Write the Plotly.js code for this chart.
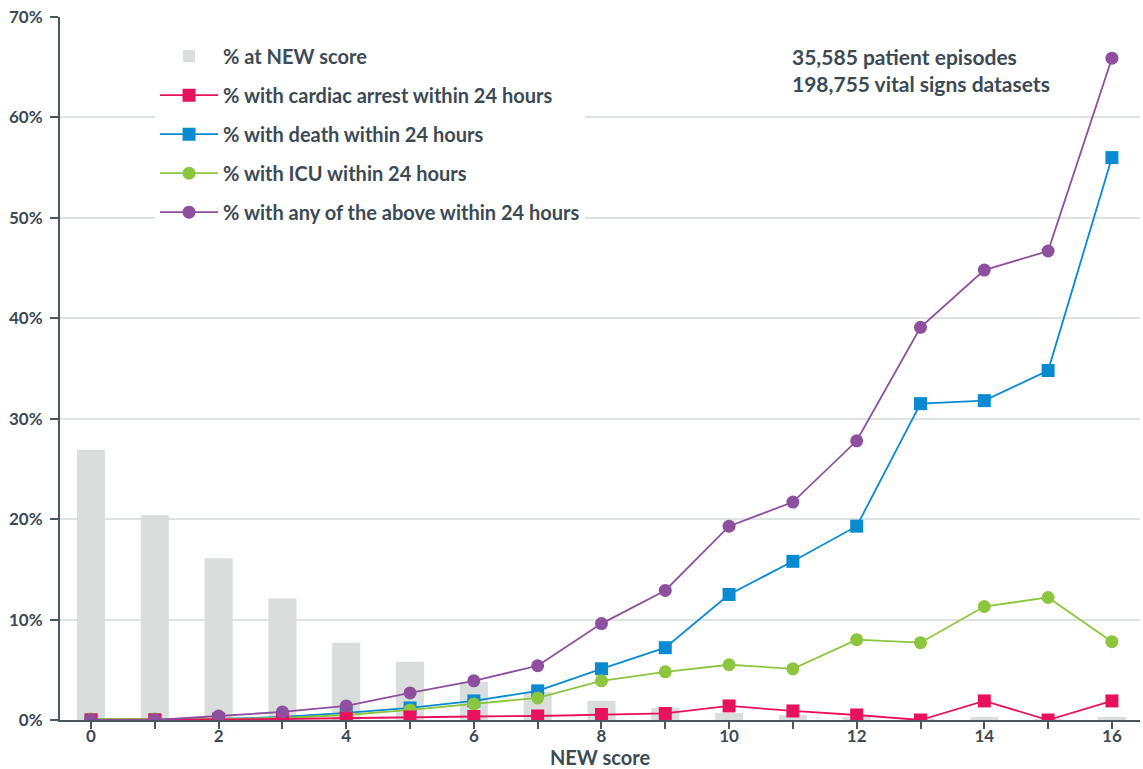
<!DOCTYPE html>
<html><head><meta charset="utf-8">
<script src="https://cdn.plot.ly/plotly-3.0.1.min.js"></script>
<style>body{margin:0;background:#fff}#chart{width:1143px;height:769px}</style>
</head><body><div id="chart"></div>
<script>
const newScore = [0,1,2,3,4,5,6,7,8,9,10,11,12,13,14,15,16];
const pctAtScore = [26.9,20.4,16.1,12.1,7.7,5.8,3.8,2.8,1.9,1.2,0.7,0.5,0.3,0.15,0.3,0.1,0.3];
const cardiacArrest = [0,0,0.05,0.1,0.2,0.3,0.35,0.4,0.55,0.65,1.4,0.9,0.5,0,1.9,0,1.9];
const death = [0,0,0.1,0.3,0.7,1.2,1.9,2.9,5.1,7.2,12.5,15.8,19.3,31.5,31.8,34.8,56.0];
const icu = [0.1,0.1,0.1,0.2,0.5,1.0,1.6,2.2,3.9,4.8,5.5,5.1,8.0,7.7,11.3,12.2,7.8];
const anyOutcome = [0,0,0.4,0.8,1.4,2.7,3.9,5.4,9.6,12.9,19.3,21.7,27.8,39.1,44.8,46.7,65.9];
const seriesNames = ['% at NEW score','% with cardiac arrest within 24 hours','% with death within 24 hours','% with ICU within 24 hours','% with any of the above within 24 hours'];
const noteLines = ['35,585 patient episodes','198,755 vital signs datasets'];

const txt = '#3c4a55';
const F = 'Lato, "Open Sans", sans-serif';

const traces = [
  {type:'bar', x:newScore, y:pctAtScore, name:seriesNames[0], width:0.44,
   marker:{color:'#d9dedd'}, legendrank:1, legendgroup:'a', hoverinfo:'x+y'},
  {type:'scatter', mode:'lines+markers', x:newScore, y:death, name:seriesNames[2],
   line:{color:'#0a8ad0', width:1.8}, marker:{symbol:'square', size:13, color:'#0a8ad0'}, legendrank:3, legendgroup:'c'},
  {type:'scatter', mode:'lines+markers', x:newScore, y:icu, name:seriesNames[3],
   line:{color:'#8cc63f', width:1.8}, marker:{symbol:'circle', size:13, color:'#8cc63f'}, legendrank:4, legendgroup:'d'},
  {type:'scatter', mode:'lines+markers', x:newScore, y:cardiacArrest, name:seriesNames[1],
   line:{color:'#e8125c', width:1.8}, marker:{symbol:'square', size:13, color:'#e8125c'}, legendrank:2, legendgroup:'b'},
  {type:'scatter', mode:'lines+markers', x:newScore, y:anyOutcome, name:seriesNames[4],
   line:{color:'#8e4f9f', width:1.8}, marker:{symbol:'circle', size:13, color:'#8e4f9f'}, legendrank:5, legendgroup:'e'}
];

const layout = {
  width:1143, height:769,
  margin:{l:60, r:3, t:17, b:49},
  paper_bgcolor:'#fff', plot_bgcolor:'#fff',
  font:{family:F, color:txt, size:17, weight:700},
  showlegend:true,
  legend:{x:0.088, y:0.972, xanchor:'left', yanchor:'top', bgcolor:'#fff',
    font:{family:F, size:20, color:txt, weight:700}, traceorder:'grouped', tracegroupgap:10,
    itemwidth:58},
  xaxis:{range:[-0.486,16.44], tickmode:'array', tickvals:[0,2,4,6,8,10,12,14,16],
    ticks:'outside', ticklen:7, tickwidth:2, tickcolor:'#4a5761', ticklabelstandoff:-7,
    minor:{dtick:1, tick0:0, ticks:'outside', ticklen:7, tickwidth:2, tickcolor:'#4a5761', showgrid:false},
    showgrid:false, zeroline:false, showline:true, linecolor:'#4a5761', linewidth:2,
    tickfont:{family:F, size:17, color:txt, weight:700},
    title:{text:'NEW score', font:{family:F, size:20, color:txt, weight:700}, standoff:14}},
  yaxis:{range:[0,70], dtick:10, ticksuffix:'%', ticks:'outside', ticklen:8, tickwidth:2, tickcolor:'#4a5761',
    ticklabelstandoff:4,
    showgrid:true, gridcolor:'#dde2e2', gridwidth:2, zeroline:false, showline:true, linecolor:'#4a5761', linewidth:2,
    tickfont:{family:F, size:17, color:txt, weight:700}},
  annotations:[
    {xref:'paper', yref:'paper', x:(790-60)/1080, y:(720-42)/703, xanchor:'left', yanchor:'top', align:'left',
     text:noteLines.join('<br>'), showarrow:false, font:{family:F, size:21, color:txt, weight:700}}
  ],
  bargap:0.5
};

Plotly.newPlot('chart', traces, layout, {displayModeBar:false, staticPlot:true});
</script>
</body></html>
